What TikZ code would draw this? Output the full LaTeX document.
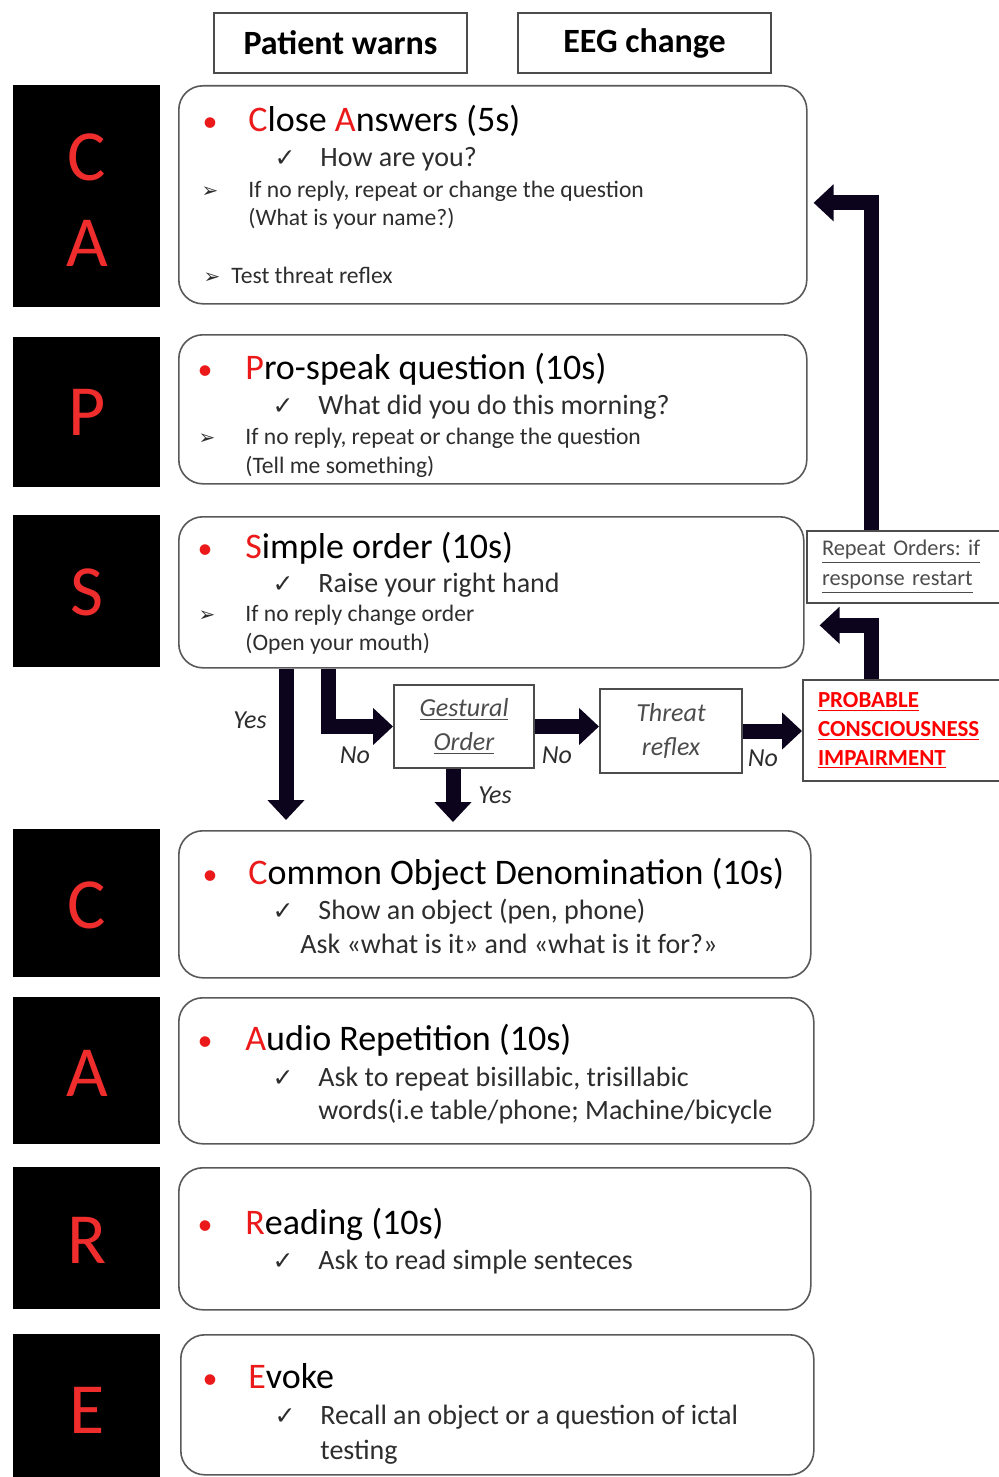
\documentclass[tikz,border=0pt]{standalone}
\usepackage{fontspec}
\setmainfont{Carlito}
\newfontfamily\symfont{DejaVu Sans}
\usetikzlibrary{arrows.meta}
\definecolor{capsred}{RGB}{235,25,25}
\definecolor{letterred}{RGB}{240,45,45}
\definecolor{arrowink}{RGB}{12,4,28}
\definecolor{boxtext}{RGB}{45,45,45}

\begin{document}
\begin{tikzpicture}[x=0.5pt, y=-0.5pt,
	letterbox/.style={fill=black, minimum width=73.5pt, inner sep=0, anchor=north west},
	capletter/.style={font=\fontsize{36}{36}\selectfont, inner sep=0, text=letterred},
	stepbox/.style={draw=black!65, line width=0.8pt, rounded corners=12pt, inner sep=0, anchor=north west},
	topbox/.style={draw=black!70, line width=1pt, minimum width=126.5pt, minimum height=30pt, inner sep=0, anchor=north west, font=\bfseries\fontsize{17}{17}\selectfont},
	flowbox/.style={draw=black!70, line width=1pt, inner sep=0, anchor=north west, align=center, font=\itshape\fontsize{13}{17}\selectfont, text=black!70},
	notebox/.style={draw=black!70, line width=1pt, inner xsep=7.5pt, inner ysep=0, anchor=north west, align=left},
	dot/.style={anchor=base, inner sep=0, text=capsred, font=\fontsize{15}{15}\selectfont},
	tickmark/.style={anchor=base, inner sep=0, text=boxtext, font=\symfont\fontsize{12.5}{12.5}\selectfont},
	pointmark/.style={anchor=base, inner sep=0, text=boxtext, font=\symfont\fontsize{10}{10}\selectfont},
	headtext/.style={anchor=base west, inner sep=0, font=\fontsize{18}{18}\selectfont},
	subtext/.style={anchor=base west, inner sep=0, text=boxtext, font=\fontsize{14}{14}\selectfont},
	smalltext/.style={anchor=base west, inner sep=0, text=boxtext, font=\fontsize{11.8}{11.8}\selectfont},
	answer/.style={inner sep=0, text=boxtext, font=\itshape\fontsize{13}{13}\selectfont},
	bigarrow/.style={draw=arrowink, line width=7.5pt, line join=miter, -{Triangle[length=10pt,width=18pt]}}]
	\useasboundingbox (0,0) rectangle (998,1477);

	%triggers
	\node[topbox] (warns) at (213,12) {Patient warns};
	\node[topbox] (eeg) at (517,12) {EEG change};

	%letter column
	\node[letterbox, minimum height=111pt] (colCA) at (13,85) {};
	\node[letterbox, minimum height=75pt] (colP) at (13,337) {};
	\node[letterbox, minimum height=76pt] (colS) at (13,515) {};
	\node[letterbox, minimum height=74pt] (colC) at (13,829) {};
	\node[letterbox, minimum height=73.5pt] (colA) at (13,997) {};
	\node[letterbox, minimum height=71pt] (colR) at (13,1167) {};
	\node[letterbox, minimum height=71.5pt] (colE) at (13,1334) {};
	\node[capletter] (letC1) at (87,157) {C};
	\node[capletter] (letA1) at (87,243) {A};
	\node[capletter] (letP) at (87,412) {P};
	\node[capletter] (letS) at (87,592) {S};
	\node[capletter] (letC2) at (87,905) {C};
	\node[capletter] (letA2) at (87,1073) {A};
	\node[capletter] (letR) at (87,1240) {R};
	\node[capletter] (letE) at (87,1410) {E};

	%step boxes
	\node[stepbox, minimum width=314pt, minimum height=109pt] (boxCA) at (178,85) {};
	\node[stepbox, minimum width=314pt, minimum height=74.5pt] (boxP) at (178,334) {};
	\node[stepbox, minimum width=312.5pt, minimum height=75.5pt] (boxS) at (178,516) {};
	\node[stepbox, minimum width=316pt, minimum height=73.5pt] (boxC) at (178,830) {};
	\node[stepbox, minimum width=317.5pt, minimum height=73pt] (boxA) at (178,997) {};
	\node[stepbox, minimum width=316pt, minimum height=71pt] (boxR) at (178,1167) {};
	\node[stepbox, minimum width=316.5pt, minimum height=70pt] (boxE) at (180,1334) {};

	%close answers
	\node[dot] (dotCA) at (210,132) {•};
	\node[headtext] (headCA) at (248,132) {\textcolor{capsred}{C}lose \textcolor{capsred}{A}nswers (5s)};
	\node[tickmark] (tickCA) at (285,166) {✓};
	\node[subtext] (subCA) at (320,166) {How are you?};
	\node[pointmark] (ptCA1) at (210,198) {➢};
	\node[smalltext] (smCA1) at (248,198) {If no reply, repeat or change the question};
	\node[smalltext] (smCA2) at (248,225) {(What is your name?)};
	\node[pointmark] (ptCA2) at (212,283) {➢};
	\node[smalltext] (smCA3) at (231,283) {Test threat reflex};

	%pro-speak
	\node[dot] (dotP) at (205,379) {•};
	\node[headtext] (headP) at (245,379) {\textcolor{capsred}{P}ro-speak question (10s)};
	\node[tickmark] (tickP) at (283,414) {✓};
	\node[subtext] (subP) at (318,414) {What did you do this morning?};
	\node[pointmark] (ptP) at (207,444) {➢};
	\node[smalltext] (smP1) at (245,444) {If no reply, repeat or change the question};
	\node[smalltext] (smP2) at (245,473) {(Tell me something)};

	%simple order
	\node[dot] (dotS) at (205,558) {•};
	\node[headtext] (headS) at (245,558) {\textcolor{capsred}{S}imple order (10s)};
	\node[tickmark] (tickS) at (283,592) {✓};
	\node[subtext] (subS) at (318,592) {Raise your right hand};
	\node[pointmark] (ptS) at (207,621) {➢};
	\node[smalltext] (smS1) at (245,621) {If no reply change order};
	\node[smalltext] (smS2) at (245,650) {(Open your mouth)};

	%common object
	\node[dot] (dotC) at (210,884) {•};
	\node[headtext] (headC) at (248,884) {\textcolor{capsred}{C}ommon Object Denomination (10s)};
	\node[tickmark] (tickC) at (283,919) {✓};
	\node[subtext] (subC1) at (318,919) {Show an object (pen, phone)};
	\node[subtext] (subC2) at (300,953) {Ask «what is it» and «what is it for?»};

	%audio repetition
	\node[dot] (dotA) at (205,1050) {•};
	\node[headtext] (headA) at (245,1050) {\textcolor{capsred}{A}udio Repetition (10s)};
	\node[tickmark] (tickA) at (283,1086) {✓};
	\node[subtext] (subA1) at (318,1086) {Ask to repeat bisillabic, trisillabic};
	\node[subtext] (subA2) at (318,1119) {words(i.e table/phone; Machine/bicycle};

	%reading
	\node[dot] (dotR) at (205,1234) {•};
	\node[headtext] (headR) at (245,1234) {\textcolor{capsred}{R}eading (10s)};
	\node[tickmark] (tickR) at (283,1269) {✓};
	\node[subtext] (subR) at (318,1269) {Ask to read simple senteces};

	%evoke
	\node[dot] (dotE) at (210,1388) {•};
	\node[headtext] (headE) at (248,1388) {\textcolor{capsred}{E}voke};
	\node[tickmark] (tickE) at (285,1424) {✓};
	\node[subtext] (subE1) at (320,1424) {Recall an object or a question of ictal};
	\node[subtext] (subE2) at (320,1459) {testing};

	%fallback chain
	\node[flowbox, minimum width=70pt, minimum height=41.5pt] (gest) at (393,684) {\underline{Gestural}\\\underline{Order}};
	\node[flowbox, minimum width=71pt, minimum height=42pt] (threat) at (599,688) {Threat\\reflex};
	\node[notebox, text width=85pt, minimum height=50.5pt, text=red, font=\bfseries\fontsize{11.5}{14.5}\selectfont] (prob) at (802,679) {\underline{PROBABLE}\\\underline{CONSCIOUSNESS}\\\underline{IMPAIRMENT}};
	\node[notebox, text width=85pt, minimum height=36pt, text=black!70, font=\frenchspacing\fontsize{11.2}{15}\selectfont] (rep) at (806,530) {\underline{Repeat Orders: if}\\\underline{response restart}};

	%arrow columns
	\coordinate (yesx) at (286,0);
	\coordinate (nox) at (328,0);
	\coordinate (retx) at (871,0);

	%arrows
	\draw[bigarrow, shorten >=5pt] (boxS.south -| yesx) -- (boxC.north -| yesx);
	\draw[bigarrow] (boxS.south -| nox) |- (gest.west);
	\draw[bigarrow] (gest.east) -- (gest.east -| threat.west);
	\draw[bigarrow, shorten >=4pt] ([xshift=-5.5pt]gest.south) -- ([xshift=-5.5pt]gest.south |- boxC.north);
	\draw[bigarrow] (threat.east) -- (threat.east -| prob.west);
	\draw[bigarrow, shorten >=7.5pt] (prob.north -| retx) |- ([yshift=-16.5pt]boxS.east);
	\draw[bigarrow, shorten >=3pt] (rep.north -| retx) |- ([yshift=-4pt]boxCA.east);

	%answers
	\node[answer] (yes1) at (250,720) {Yes};
	\node[answer] (no1) at (355,755) {No};
	\node[answer] (no2) at (557,755) {No};
	\node[answer] (yes2) at (495,795) {Yes};
	\node[answer] (no3) at (763,758) {No};
\end{tikzpicture}
\end{document}
